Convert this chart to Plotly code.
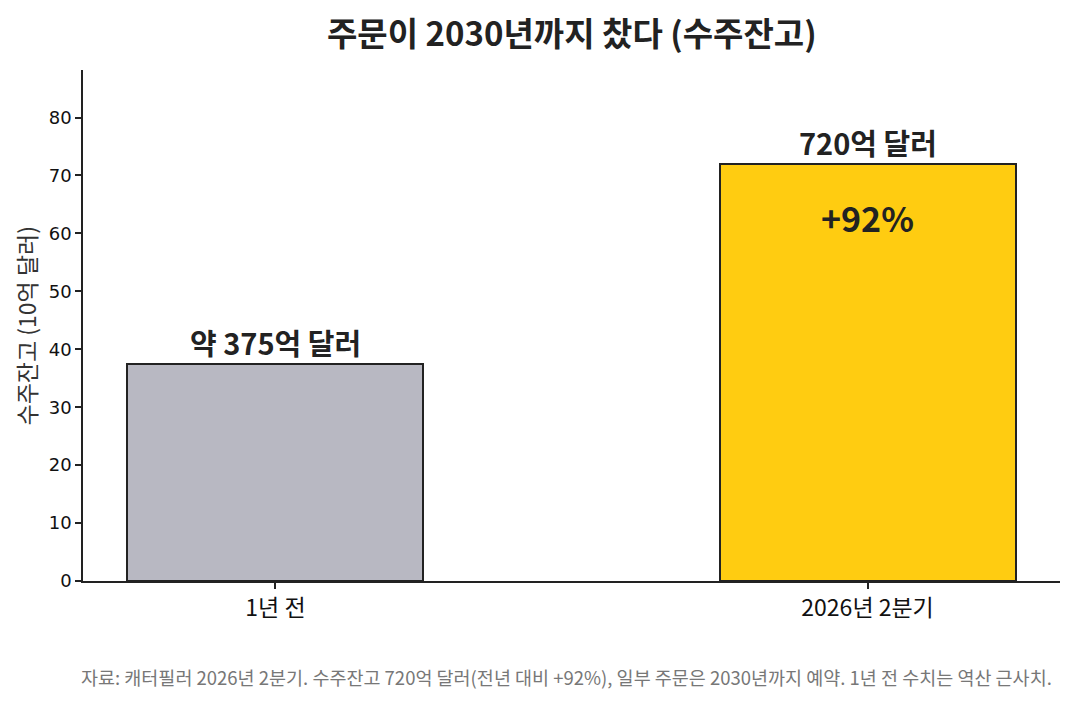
import plotly.graph_objects as go

categories = ["1년 전", "2026년 2분기"]
values = [37.5, 72.0]
bar_labels = ["약 375억 달러", "720억 달러"]
growth_label = "+92%"
growth_y = 62.7
y_ticks = [0, 10, 20, 30, 40, 50, 60, 70, 80]

colors = ["#B8B8C2", "#FFCC11"]
KR = "Noto Sans CJK KR"

fig = go.Figure()
fig.add_trace(go.Bar(
    x=[0, 1], y=values, width=0.5,
    marker=dict(color=colors, line=dict(color="#222222", width=2)),
    hoverinfo="skip",
))

for i, (v, lab) in enumerate(zip(values, bar_labels)):
    fig.add_annotation(x=i, y=v, text=f"<b>{lab}</b>", showarrow=False,
                       yanchor="bottom", yshift=-1,
                       font=dict(family=KR, size=29, color="#222222"))

fig.add_annotation(x=1, y=growth_y, text=f"<b>{growth_label}</b>", showarrow=False,
                   yanchor="middle", font=dict(family=KR, size=34, color="#222222"))

fig.add_annotation(xref="paper", yref="paper", x=0.5, y=1, yshift=38,
                   text="<b>주문이 2030년까지 찼다 (수주잔고)</b>", showarrow=False,
                   xanchor="center", yanchor="middle",
                   font=dict(family=KR, size=33, color="#222222"))

fig.add_annotation(xref="paper", yref="paper", x=0, xshift=-58, y=0.5,
                   text="수주잔고 (10억 달러)", showarrow=False, textangle=-90,
                   xanchor="center", yanchor="middle",
                   font=dict(family=KR, size=23, color="#333333"))

fig.add_annotation(xref="paper", yref="paper", x=1.0, xshift=-6, y=0, yshift=-96,
                   text="자료: 캐터필러 2026년 2분기. 수주잔고 720억 달러(전년 대비 +92%), 일부 주문은 2030년까지 예약. 1년 전 수치는 역산 근사치.",
                   showarrow=False, xanchor="right", yanchor="middle",
                   font=dict(family=KR, size=18.5, color="#777777"))

fig.update_layout(
    width=1066, height=694,
    margin=dict(l=75, r=14, t=62, b=121),
    paper_bgcolor="white", plot_bgcolor="white",
    showlegend=False,
    bargap=0,
)
fig.update_xaxes(
    range=[-0.325, 1.325], tickvals=[0, 1], ticktext=categories,
    showline=True, linecolor="#222222", linewidth=1.5,
    ticks="outside", ticklen=6, tickcolor="#222222", tickwidth=1.5,
    showgrid=False, zeroline=False, automargin=False,
    tickfont=dict(family=KR, size=23, color="#111111"),
)
fig.update_yaxes(
    range=[0, 88.2], tickvals=y_ticks,
    showline=True, linecolor="#222222", linewidth=1.5,
    ticks="outside", ticklen=6, tickcolor="#222222", tickwidth=1.5,
    showgrid=False, zeroline=False, automargin=False,
    tickfont=dict(family="DejaVu Sans", size=18, color="#111111"),
)

fig.write_html("out.html")
